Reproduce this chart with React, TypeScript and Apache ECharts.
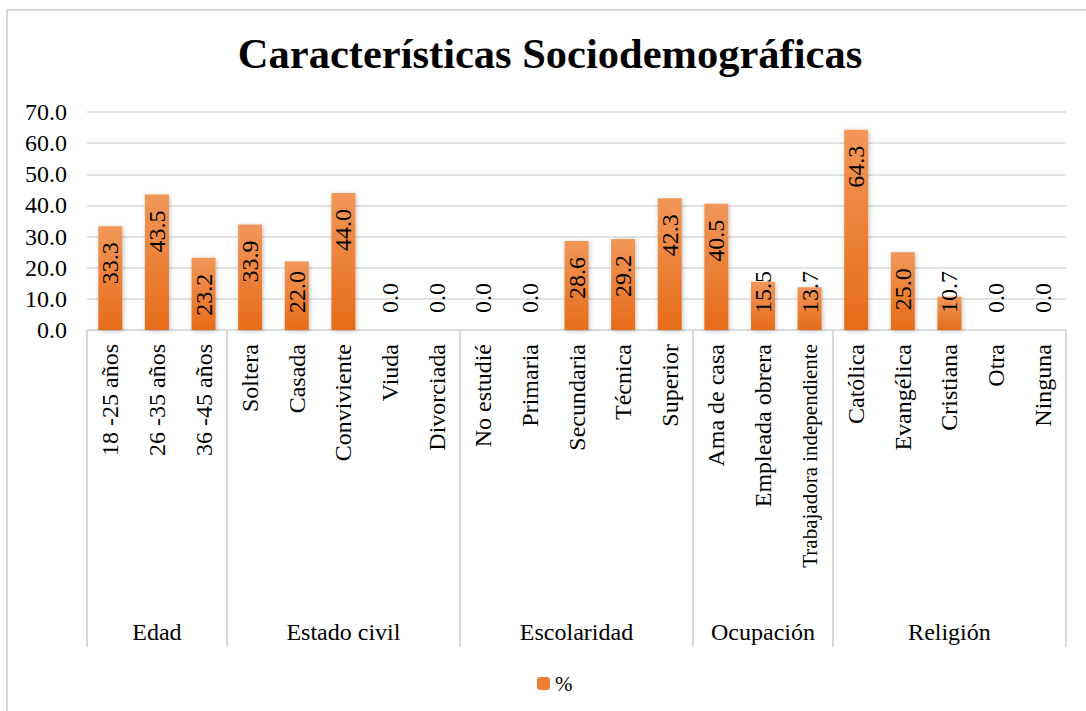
import React, { useEffect, useRef } from "react";
import * as echarts from "echarts";

const groupNames = ["Edad", "Estado civil", "Escolaridad", "Ocupación", "Religión"];
const edadCats = ["18 -25 años", "26 -35 años", "36 -45 años"];
const edadVals = [33.3, 43.5, 23.2];
const civilCats = ["Soltera", "Casada", "Conviviente", "Viuda", "Divorciada"];
const civilVals = [33.9, 22.0, 44.0, 0.0, 0.0];
const escolCats = ["No estudié", "Primaria", "Secundaria", "Técnica", "Superior"];
const escolVals = [0.0, 0.0, 28.6, 29.2, 42.3];
const ocupCats = ["Ama de casa", "Empleada obrera", "Trabajadora independiente"];
const ocupVals = [40.5, 15.5, 13.7];
const religCats = ["Católica", "Evangélica", "Cristiana", "Otra", "Ninguna"];
const religVals = [64.3, 25.0, 10.7, 0.0, 0.0];
const yTicks = [0, 10, 20, 30, 40, 50, 60, 70];
const seriesName = "%";

const groupCats = [edadCats, civilCats, escolCats, ocupCats, religCats];
const groupVals = [edadVals, civilVals, escolVals, ocupVals, religVals];

const SERIF = "Liberation Serif";

export default function App() {
  const ref = useRef<HTMLDivElement>(null);
  useEffect(() => {
    if (!ref.current) return;
    const chart = echarts.init(ref.current, undefined, { renderer: "svg" });

    const categories: string[] = [];
    const values: number[] = [];
    const boundaryIdx: number[] = [];
    const centerLabel: Record<number, string> = {};
    groupCats.forEach((cats, g) => {
      boundaryIdx.push(categories.length);
      centerLabel[categories.length + Math.floor(cats.length / 2)] = groupNames[g];
      cats.forEach((c, i) => {
        categories.push(c);
        values.push(groupVals[g][i]);
      });
    });

    const barColor = new echarts.graphic.LinearGradient(0, 0, 0, 1, [
      { offset: 0, color: "#F1975A" },
      { offset: 1, color: "#E66C19" },
    ]);

    const data = values.map((v) => {
      const short = v < 23;
      return {
        value: v,
        label: short
          ? { position: "insideBottom", align: "left", distance: 17 }
          : { position: "insideTop", align: "right", distance: 16 },
      };
    });

    chart.setOption({
      animation: false,
      textStyle: { fontFamily: SERIF },
      title: {
        text: "Características Sociodemográficas",
        left: 545,
        textAlign: "center",
        top: 27,
        textStyle: { fontFamily: SERIF, fontSize: 42.5, fontWeight: "bold", color: "#000" },
      },
      graphic: [
        {
          type: "rect",
          shape: { x: 7, y: 10, width: 1100, height: 720 },
          style: { fill: "none", stroke: "#d9d9d9", lineWidth: 2 },
          silent: true,
        },
      ],
      legend: {
        left: 537,
        top: 673,
        padding: 0,
        itemWidth: 13,
        itemHeight: 13,
        itemGap: 4,
        textStyle: { fontFamily: SERIF, fontSize: 21, color: "#000" },
        data: [{ name: seriesName, itemStyle: { color: "#EE7F35" } }],
      },
      grid: { left: 87, right: 20, top: 112, bottom: 381, containLabel: false },
      xAxis: [
        {
          type: "category",
          data: categories,
          position: "bottom",
          axisLine: { show: true, lineStyle: { color: "#d9d9d9", width: 1.5 } },
          axisTick: {
            show: true,
            length: 317,
            interval: (idx: number) => boundaryIdx.indexOf(idx) >= 0,
            lineStyle: { color: "#d9d9d9", width: 2 },
          },
          axisLabel: {
            interval: 0,
            rotate: 90,
            margin: 14,
            fontFamily: SERIF,
            fontSize: 24,
            color: "#000",
            formatter: (v: string) => (v.length > 20 ? "{s|" + v + "}" : v),
            rich: { s: { fontFamily: SERIF, fontSize: 21, color: "#000" } },
          },
        },
        {
          type: "category",
          data: categories,
          position: "bottom",
          offset: 282,
          axisLine: { show: false },
          axisTick: { show: false },
          axisLabel: {
            interval: 0,
            margin: 8,
            fontFamily: SERIF,
            fontSize: 24,
            color: "#000",
            formatter: (_v: string, idx: number) => centerLabel[idx] || "",
          },
        },
      ],
      yAxis: {
        type: "value",
        min: yTicks[0],
        max: yTicks[yTicks.length - 1],
        interval: 10,
        axisLine: { show: false },
        axisTick: { show: false },
        axisLabel: {
          margin: 20,
          fontFamily: SERIF,
          fontSize: 24,
          color: "#000",
          formatter: (v: number) => v.toFixed(1),
        },
        splitLine: { lineStyle: { color: "#d9d9d9", width: 1.5 } },
      },
      series: [
        {
          name: seriesName,
          type: "bar",
          xAxisIndex: 0,
          data,
          barWidth: 24,
          itemStyle: {
            color: barColor,
            shadowBlur: 4,
            shadowColor: "rgba(0,0,0,0.25)",
            shadowOffsetX: 1,
            shadowOffsetY: 1,
          },
          label: {
            show: true,
            rotate: 90,
            verticalAlign: "middle",
            fontFamily: SERIF,
            fontSize: 24,
            color: "#000",
            formatter: (p: any) => Number(p.value).toFixed(1),
          },
        },
      ],
    });
    return () => chart.dispose();
  }, []);

  return (
    <div
      ref={ref}
      style={{ position: "absolute", left: 0, top: 0, width: 1086, height: 711, background: "#fff" }}
    />
  );
}
